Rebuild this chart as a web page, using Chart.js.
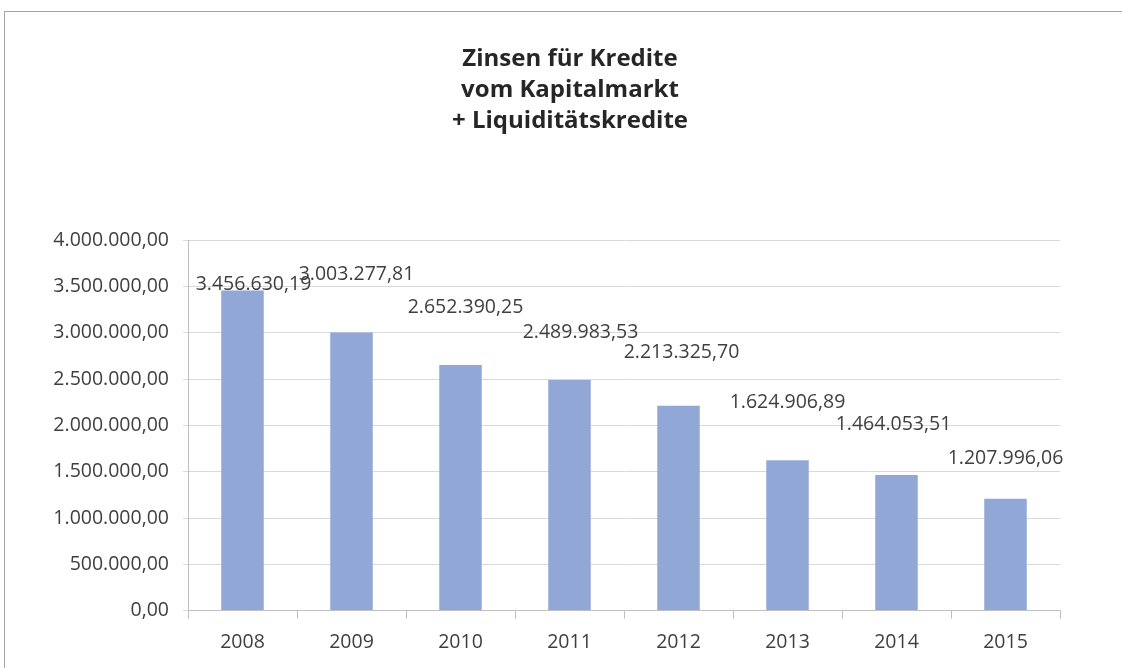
<!DOCTYPE html>
<html>
<head>
<meta charset="utf-8">
<script src="https://cdn.jsdelivr.net/npm/chart.js@4"></script>
<style>
  html, body { margin: 0; padding: 0; background: #fff; overflow: hidden; }
  #frame {
    position: absolute; left: 4px; top: 11px;
    width: 1140px; height: 700px;
    border: 1px solid #a6a6a6;
    background: #fff;
  }
  #wrap { position: absolute; left: 0; top: 0; width: 1130px; height: 656px; }
</style>
</head>
<body>
<div id="frame">
  <div id="wrap"><canvas id="my-chart"></canvas></div>
</div>
<script>
// data
const years = ['2008', '2009', '2010', '2011', '2012', '2013', '2014', '2015'];
const interest = [3456630.19, 3003277.81, 2652390.25, 2489983.53, 2213325.70, 1624906.89, 1464053.51, 1207996.06];
const yTicks = [0, 500000, 1000000, 1500000, 2000000, 2500000, 3000000, 3500000, 4000000];
const titleLines = ['Zinsen für Kredite', 'vom Kapitalmarkt', '+ Liquiditätskredite'];

// where each value label sits, relative to the top of its bar (pixels)
const labelDx = [11, 5, 5, 11, 3, 0, -3, 0];
const labelDy = [-6, -58, -58, -48, -53, -58, -51, -40];

const FONT = '"Open Sans", "DejaVu Sans", sans-serif';

// german number format: 1.234.567,89
function deNum(v) {
  const parts = v.toFixed(2).split('.');
  const intPart = parts[0].replace(/\B(?=(\d{3})+(?!\d))/g, '.');
  return intPart + ',' + parts[1];
}

const valueLabels = {
  id: 'valueLabels',
  afterDatasetsDraw(chart) {
    const ctx = chart.ctx;
    const meta = chart.getDatasetMeta(0);
    ctx.save();
    ctx.font = '19.5px ' + FONT;
    ctx.fillStyle = '#3f3f3f';
    ctx.textAlign = 'center';
    ctx.textBaseline = 'middle';
    meta.data.forEach((bar, i) => {
      ctx.fillText(deNum(interest[i]), bar.x + labelDx[i], bar.y + labelDy[i]);
    });
    ctx.restore();
  }
};

const ctx = document.getElementById('my-chart').getContext('2d');
const chart = new Chart(ctx, {
  type: 'bar',
  data: {
    labels: years,
    datasets: [
      {
        label: 'Zinsen',
        data: interest,
        backgroundColor: '#91a8d7',
        borderWidth: 0,
        categoryPercentage: 1,
        barPercentage: 0.39
      }
    ]
  },
  options: {
    responsive: true,
    maintainAspectRatio: false,
    animation: false,
    layout: { padding: { left: 0, right: 0, bottom: 2, top: 0 } },
    plugins: {
      legend: { display: false },
      tooltip: { enabled: false },
      title: {
        display: true,
        text: titleLines,
        color: '#262626',
        font: { family: FONT, size: 24, weight: 'bold', lineHeight: 1.31 },
        padding: { top: 31, bottom: 103 }
      }
    },
    scales: {
      x: {
        offset: true,
        grid: { drawOnChartArea: false, color: '#bfbfbf', tickLength: 8 },
        border: { color: '#bfbfbf' },
        ticks: { color: '#3f3f3f', font: { family: FONT, size: 19.5 }, padding: 12 }
      },
      y: {
        min: 0,
        max: 4000000,
        afterBuildTicks(scale) {
          scale.ticks = yTicks.map(v => ({ value: v }));
        },
        afterFit(scale) {
          scale.width = 183;
        },
        grid: { color: '#d9d9d9', tickLength: 5 },
        border: { color: '#bfbfbf' },
        ticks: {
          color: '#3f3f3f',
          font: { family: FONT, size: 19.5 },
          padding: 14,
          callback: v => deNum(v)
        }
      },
      // empty right-hand spacer so the plot ends where the reference does
      spacer: {
        type: 'linear',
        position: 'right',
        min: 0,
        max: 1,
        grid: { display: false },
        border: { display: false },
        ticks: { display: false },
        afterFit(scale) {
          scale.width = 75;
        }
      }
    }
  },
  plugins: [valueLabels]
}); // closes chart
</script>
</body>
</html>
